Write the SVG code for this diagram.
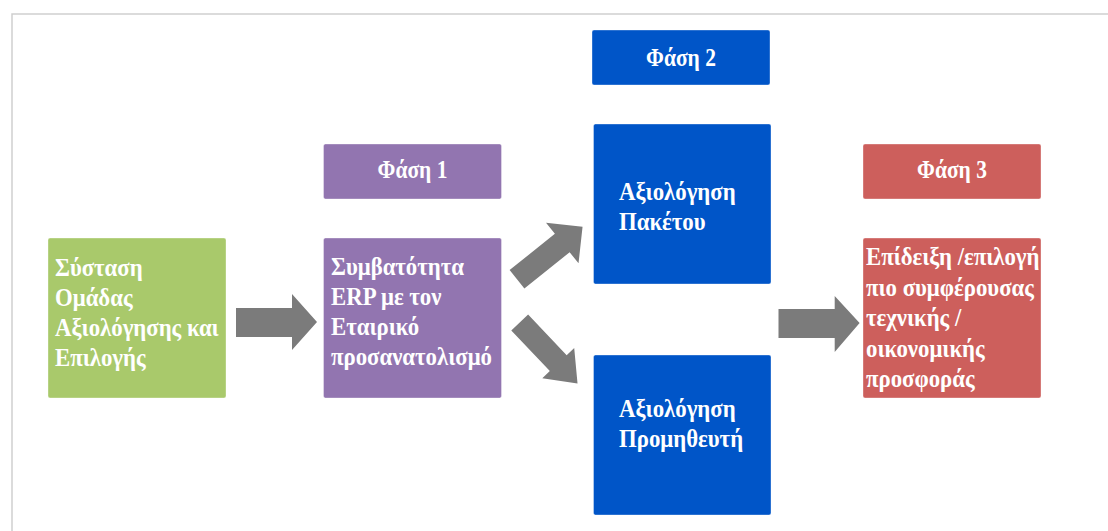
<svg xmlns="http://www.w3.org/2000/svg" width="1108" height="531" viewBox="0 0 1108 531">
<style>
.frame{fill:none;stroke:#cfcfcf;stroke-width:1.5}
.box{stroke-width:1;stroke-opacity:0.35;stroke:#ffffff}
.green{fill:#A9C96B}
.purple{fill:#9275B0}
.blue{fill:#0055C8}
.red{fill:#CD5F5C}
.arrow{fill:#7B7B7B}
text{font-family:"Liberation Serif","Times New Roman",serif;font-weight:bold;font-size:22.8px;fill:#ffffff}
.c{text-anchor:middle;font-size:21.5px}
</style>
<rect width="1108" height="531" fill="#ffffff"/>
<path class="frame" d="M12,531 L12,14 L1108,14"/>

<g id="connectors">
  <path class="arrow" d="M236,308 L292,308 L292,294 L317,322 L292,350 L292,337 L236,337 Z"/>
  <path class="arrow" transform="translate(517,279.3) rotate(-38.7)" d="M0,-11.8 L58,-11.8 L58,-26 L84,0 L58,26 L58,11.8 L0,11.8 Z"/>
  <path class="arrow" transform="translate(519.7,322.5) rotate(46.5)" d="M0,-11.6 L56,-11.6 L56,-22 L84,0 L56,22 L56,11.6 L0,11.6 Z"/>
  <path class="arrow" d="M778.5,309 L834.7,309 L834.7,296 L859.6,323 L834.7,352 L834.7,338 L778.5,338 Z"/>
</g>

<g id="node-systasi">
  <rect class="box green" x="48" y="238" width="178" height="160" rx="2"/>
  <text transform="translate(55,275.5) scale(1,1.13)">Σύσταση</text>
  <text transform="translate(55,305.5) scale(1,1.13)">Ομάδας</text>
  <text transform="translate(55,335.5) scale(1,1.13)">Αξιολόγησης και</text>
  <text transform="translate(55,365.5) scale(1,1.13)">Επιλογής</text>
</g>

<g id="node-fasi1">
  <rect class="box purple" x="323.5" y="144" width="178" height="55" rx="2"/>
  <text class="c" transform="translate(412.5,178) scale(1,1.2)">Φάση 1</text>
</g>

<g id="node-symvatotita">
  <rect class="box purple" x="323.5" y="238" width="178" height="160" rx="2"/>
  <text transform="translate(331,275) scale(1,1.13)">Συμβατότητα</text>
  <text transform="translate(331,305) scale(1,1.13)">ERP με τον</text>
  <text transform="translate(331,335) scale(1,1.13)">Εταιρικό</text>
  <text transform="translate(331,365) scale(1,1.13)">προσανατολισμό</text>
</g>

<g id="node-fasi2">
  <rect class="box blue" x="592" y="30" width="178" height="55" rx="2"/>
  <text class="c" transform="translate(681,66) scale(1,1.2)">Φάση 2</text>
</g>

<g id="node-paketou">
  <rect class="box blue" x="593.5" y="124" width="177.5" height="160" rx="2"/>
  <text transform="translate(619,200) scale(1,1.13)">Αξιολόγηση</text>
  <text transform="translate(619,230) scale(1,1.13)">Πακέτου</text>
</g>

<g id="node-promitheuti">
  <rect class="box blue" x="593.5" y="355" width="177.5" height="160" rx="2"/>
  <text transform="translate(619,416.5) scale(1,1.13)">Αξιολόγηση</text>
  <text transform="translate(619,446.5) scale(1,1.13)">Προμηθευτή</text>
</g>

<g id="node-fasi3">
  <rect class="box red" x="863" y="144" width="178" height="55" rx="2"/>
  <text class="c" transform="translate(952,178) scale(1,1.2)">Φάση 3</text>
</g>

<g id="node-epideixi">
  <rect class="box red" x="863" y="238" width="178" height="160" rx="2"/>
  <text transform="translate(866,265) scale(1,1.13)">Επίδειξη /επιλογή</text>
  <text transform="translate(866,295.6) scale(1,1.13)">πιο συμφέρουσας</text>
  <text transform="translate(866,326.2) scale(1,1.13)">τεχνικής /</text>
  <text transform="translate(866,356.8) scale(1,1.13)">οικονομικής</text>
  <text transform="translate(866,387.4) scale(1,1.13)">προσφοράς</text>
</g>
</svg>
